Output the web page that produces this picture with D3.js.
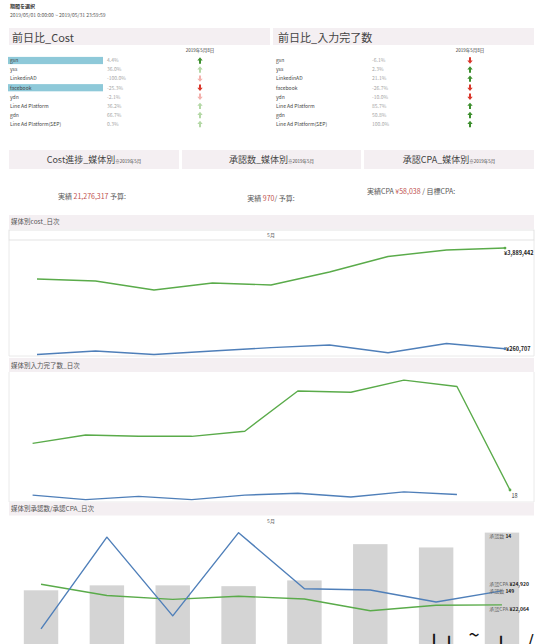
<!DOCTYPE html>
<html lang="ja">
<head>
<meta charset="utf-8">
<title>媒体別ダッシュボード</title>
<script src="https://cdn.jsdelivr.net/npm/d3@7"></script>
<style>
  html, body { margin: 0; padding: 0; background: #fff; overflow: hidden; }
  svg { display: block; font-family: "Noto Sans CJK JP", "Noto Sans", sans-serif; }
</style>
</head>
<body>
<div id="dash"></div>
<script>
// ---- données ----
const periodLabel = '期間を選択';
const periodRange = '2019/05/01 0:00:00 ~ 2019/05/31 23:59:59';
const compareDate = '2019年5月8日';

const media = ['gsn', 'yss', 'LinkedinAD', 'facebook', 'ydn', 'Line Ad Platform', 'gdn', 'Line Ad Platform(SEP)'];
const costDiff = [4.4, 36.0, -100.0, -25.3, -2.1, 36.2, 66.7, 0.3];
const inputDiff = [-6.1, 2.3, 21.1, -26.7, -10.0, 85.7, 50.8, 100.0];
const highlighted = ['gsn', 'facebook'];

const kpiTitles = ['Cost進捗_媒体別', '承認数_媒体別', '承認CPA_媒体別'];
const kpiNote = '※2019年5月';

const costDays = ['5/1', '5/2', '5/3', '5/4', '5/5', '5/6', '5/7', '5/8', '5/9'];
const costGreen = [2775000, 2703000, 2378000, 2631000, 2559000, 3027000, 3586000, 3820000, 3889442];
const costBlue = [54000, 180000, 54000, 180000, 303000, 396000, 115000, 450000, 260707];

const inputDays = ['5/1', '5/2', '5/3', '5/4', '5/5', '5/6', '5/7', '5/8', '5/9', '5/10'];
const inputGreen = [91, 104, 102, 102, 110, 173, 171, 190, 180, 18];
const inputBlue = [10, 3, 8, 3, 10, 13, 7, 15, 11];

const cvDays = ['5/1', '5/2', '5/3', '5/4', '5/5', '5/6', '5/7', '5/8'];
const cvCount = [7.0, 7.6, 7.6, 7.5, 8.2, 12.6, 12.2, 14];
const cpaBlue = [17156, 35884, 19829, 36802, 25357, 25092, 22644, 24920];
const cpaGreen = [26275, 23970, 23195, 23827, 23256, 20869, 21991, 22064];

// ---- styles ----
const W = 539;
const bandFill = '#f4eff2';
const textGray = '#555';
const green = '#5aab4a', blue = '#4f7fb9';

const svg = d3.select('#dash').append('svg').attr('width', W).attr('height', 660);

function band(x, y, w, h) {
  svg.append('rect').attr('x', x).attr('y', y).attr('width', w).attr('height', h).attr('fill', bandFill);
}
function label(x, y, str, size, opts = {}) {
  return svg.append('text').attr('x', x).attr('y', y)
    .attr('font-size', size)
    .attr('fill', opts.fill || textGray)
    .attr('text-anchor', opts.anchor || 'start')
    .attr('font-weight', opts.weight || 'normal')
    .text(str);
}
function arrow(x, y, up, faded) {
  const col = up ? (faded ? '#b4d8a6' : '#3d8f2e') : (faded ? '#f3b1ad' : '#d9372b');
  svg.append('path')
    .attr('d', 'M0,-3.2 L2.7,0 L1,0 L1,3.2 L-1,3.2 L-1,0 L-2.7,0 Z')
    .attr('transform', `translate(${x},${y}) scale(1,${up ? 1 : -1})`)
    .attr('fill', col);
}

// ---- en-tête période ----
label(10, 8, periodLabel, 5, { weight: 'bold', fill: '#333' });
label(10, 17, periodRange, 5);

// ---- tableaux 前日比 ----
function diffTable(x0, w, title, values, cols, dimOthers) {
  band(x0, 28, w, 17);
  label(cols.label + 2, 41.5, title, 11, { fill: '#444' });
  label(cols.arrow, 52, compareDate, 4.5, { anchor: 'middle', fill: '#333' });
  const y = d3.scalePoint().domain(media).range([60.5, 124]);
  media.forEach((m, i) => {
    const cy = y(m);
    const on = highlighted.includes(m);
    if (dimOthers && on) {
      svg.append('rect').attr('x', x0 - 1).attr('y', cy - 3.6).attr('width', 95).attr('height', 7.2)
        .attr('fill', '#8ec9d9');
    }
    label(cols.label, cy + 1.8, m, 5, { fill: '#444' });
    label(cols.value, cy + 1.8, values[i].toFixed(1) + '%', 5, { fill: '#a5a5a5' });
    arrow(cols.arrow, cy, values[i] >= 0, dimOthers && !on);
  });
}
diffTable(9, 261, '前日比_Cost', costDiff, { label: 10, value: 107, arrow: 200 }, true);
diffTable(273, 261, '前日比_入力完了数', inputDiff, { label: 276, value: 372, arrow: 470 }, false);

// ---- cartes KPI ----
const kpiBands = [[9, 170], [182, 179], [364, 170]];
kpiBands.forEach(([bx, bw], i) => {
  band(bx, 150, bw, 19);
  const t = svg.append('text').attr('x', bx + bw / 2).attr('y', 163)
    .attr('text-anchor', 'middle').attr('fill', '#444');
  t.append('tspan').attr('font-size', 9).text(kpiTitles[i]);
  t.append('tspan').attr('font-size', 4.5).text(kpiNote);
});
function kpiText(x, y, anchor, parts) {
  const t = svg.append('text').attr('x', x).attr('y', y).attr('text-anchor', anchor)
    .attr('font-size', 7).attr('fill', textGray);
  parts.forEach(p => t.append('tspan').attr('fill', p.red ? '#c0504d' : textGray).text(p.s));
}
kpiText(92, 198.5, 'middle', [{ s: '実績 ' }, { s: '21,276,317', red: true }, { s: ' 予算:' }]);
kpiText(271, 200.5, 'middle', [{ s: '実績 ' }, { s: '970', red: true }, { s: '/ 予算:' }]);
kpiText(367, 193.5, 'start', [{ s: '実績CPA ' }, { s: '¥58,038', red: true }, { s: ' / 目標CPA:' }]);

// ---- helpers lignes ----
function drawLine(xs, ys, days, vals, color) {
  const line = d3.line().x((d, i) => xs(days[i])).y(d => ys(d));
  svg.append('path').datum(vals).attr('d', line)
    .attr('fill', 'none').attr('stroke', color).attr('stroke-width', 1.4)
    .attr('stroke-linejoin', 'round');
  const last = vals.length - 1;
  svg.append('circle').attr('cx', xs(days[last])).attr('cy', ys(vals[last])).attr('r', 1.4).attr('fill', color);
}
function frame(y0, y1) {
  svg.append('path')
    .attr('d', `M9,${y0} L9,${y1} L534,${y1} L534,${y0}`)
    .attr('fill', 'none').attr('stroke', '#e4e4e4').attr('stroke-width', 0.8);
}

// ---- 媒体別cost_日次 ----
band(9, 215, 525, 14);
label(11, 224, '媒体別cost_日次', 6.5, { fill: '#555' });
svg.append('rect').attr('x', 9).attr('y', 230).attr('width', 525).attr('height', 10)
  .attr('fill', '#fff').attr('stroke', '#dcdcdc').attr('stroke-width', 0.8);
label(271, 237, '5月', 5, { anchor: 'middle', fill: '#666' });
frame(240, 356);

const x1 = d3.scalePoint().domain(costDays).range([37, 505]);
const y1 = d3.scaleLinear().domain([0, 4000000]).range([356, 245]);
drawLine(x1, y1, costDays, costGreen, green);
drawLine(x1, y1, costDays, costBlue, blue);
const fmtYen = d => '¥' + d3.format(',')(d);
label(x1(costDays[8]) - 1, y1(costGreen[8]) + 7, fmtYen(costGreen[8]), 5.5, { weight: 'bold', fill: '#222' });
label(x1(costDays[8]) + 1, y1(costBlue[8]) + 2, fmtYen(costBlue[8]), 5.5, { weight: 'bold', fill: '#222' });

// ---- 媒体別入力完了数_日次 ----
band(9, 358, 525, 14);
label(11, 367.5, '媒体別入力完了数_日次', 6.5, { fill: '#555' });
frame(372, 502);

const x2 = d3.scalePoint().domain(inputDays).range([32.6, 510]);
const y2 = d3.scaleLinear().domain([0, 200]).range([501.5, 373.7]);
drawLine(x2, y2, inputDays, inputGreen, green);
const blueLine2 = d3.line().x((d, i) => x2(inputDays[i])).y(d => y2(d));
svg.append('path').datum(inputBlue).attr('d', blueLine2)
  .attr('fill', 'none').attr('stroke', blue).attr('stroke-width', 1.4).attr('stroke-linejoin', 'round');
label(x2(inputDays[9]) + 1.5, y2(inputGreen[9]) + 8.5, String(inputGreen[9]), 5.5, { fill: '#333' });

// ---- 媒体別承認数/承認CPA_日次 ----
band(9, 502.5, 525, 13);
label(11, 511, '媒体別承認数/承認CPA_日次', 6.5, { fill: '#555' });
label(271, 523, '5月', 5, { anchor: 'middle', fill: '#666' });

const x3 = d3.scaleBand().domain(cvDays).range([8, 535]).paddingInner(0.477).paddingOuter(0.24);
const yBar = d3.scaleLinear().domain([0, 14]).range([648, 532.6]);
const yCpa = d3.scaleLinear().domain([0, 40000]).range([713, 517]);

svg.append('g').selectAll('rect').data(cvCount).enter().append('rect')
  .attr('x', (d, i) => x3(cvDays[i]))
  .attr('y', d => yBar(d))
  .attr('width', x3.bandwidth())
  .attr('height', d => yBar(0) - yBar(d))
  .attr('fill', '#d4d4d4');

const cpaLine = d3.line().x((d, i) => x3(cvDays[i]) + x3.bandwidth() / 2).y(d => yCpa(d));
svg.append('path').datum(cpaGreen).attr('d', cpaLine)
  .attr('fill', 'none').attr('stroke', green).attr('stroke-width', 1.4).attr('stroke-linejoin', 'round');
svg.append('path').datum(cpaBlue).attr('d', cpaLine)
  .attr('fill', 'none').attr('stroke', blue).attr('stroke-width', 1.4).attr('stroke-linejoin', 'round');

function tagLabel(x, y, name, val) {
  const t = svg.append('text').attr('x', x).attr('y', y).attr('font-size', 5);
  t.append('tspan').attr('fill', '#666').text(name + ' ');
  t.append('tspan').attr('fill', '#222').attr('font-weight', 'bold').text(val);
}
const lastX = x3(cvDays[7]) + 4.5;
tagLabel(lastX, yBar(cvCount[7]) + 5.5, '承認数', String(cvCount[7]));
tagLabel(lastX, yCpa(cpaBlue[7]) - 5, '承認CPA', fmtYen(cpaBlue[7]));
tagLabel(lastX, yCpa(cpaBlue[7]) + 2, '承認数', '149');
tagLabel(lastX, yCpa(cpaGreen[7]) + 6, '承認CPA', fmtYen(cpaGreen[7]));

// ---- bas de page coupé (texte suivant, hors cadre) ----
const cutGlyphs = [['l', 434, 650], ['l', 449, 652], ['~', 474, 642], ['l', 501, 652], ['/', 530, 650]];
cutGlyphs.forEach(([g, gx, gy]) => {
  svg.append('text').attr('x', gx).attr('y', gy).attr('font-size', 20)
    .attr('text-anchor', 'middle').attr('fill', '#111').text(g);
});
</script>
</body>
</html>
